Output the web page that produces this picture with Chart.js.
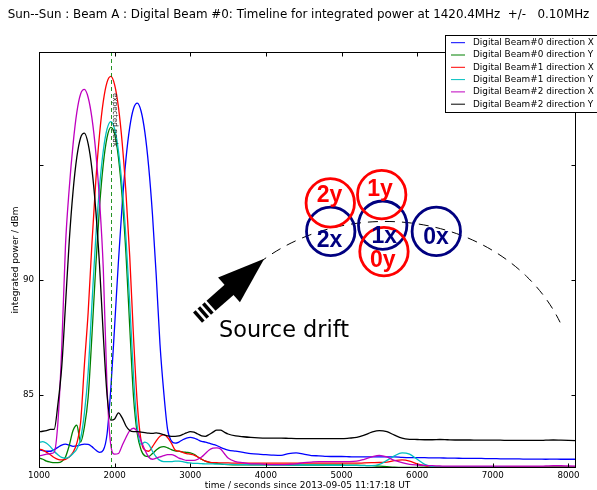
<!DOCTYPE html>
<html><head><meta charset="utf-8">
<script src="https://cdn.jsdelivr.net/npm/chart.js@4/dist/chart.umd.min.js"></script>
<style>html,body{margin:0;padding:0;background:#fff}canvas{display:block}</style>
</head><body>
<canvas id="c" width="597" height="490"></canvas>
<script>
// ---------- data ----------
const times = [1000,1050,1100,1150,1200,1250,1300,1350,1400,1450,
  1500,1550,1600,1650,1700,1750,1800,1850,1900,1950,
  2000,2050,2100,2150,2200,2250,2300,2350,2400,2450,
  2500,2550,2600,2650,2700,2750,2800,2850,2900,2950,
  3000,3050,3100,3150,3200,3250,3300,3350,3400,3450,3500,
  3600,3700,3800,3900,4000,4100,4200,4300,4400,4500,
  4600,4700,4800,4900,5000,5100,5200,5300,5400,5500,
  5600,5700,5800,5900,6000,6100,6200,6300,6400,6500,
  6600,6700,6800,6900,7000,7100,7200,7300,7400,7500,
  7600,7700,7800,7900,8000,8100];

const beam0X = [82.61,82.58,82.55,82.55,82.62,82.72,82.82,82.86,82.82,82.76,
  82.78,82.83,82.86,82.85,82.75,82.6,82.5,82.6,83.3,85.3,
  88.0,90.8,93.3,95.28,96.66,97.47,97.7,97.35,96.43,94.94,
  92.87,90.2,87.2,85.1,83.5,83.0,82.9,82.95,83.05,83.12,
  83.15,83.12,83.05,82.98,82.95,82.9,82.85,82.8,82.72,82.65,82.6,
  82.55,82.5,82.45,82.42,82.4,82.38,82.37,82.45,82.48,82.42,
  82.36,82.35,82.33,82.32,82.32,82.31,82.3,82.3,82.3,82.3,
  82.3,82.3,82.28,82.27,82.27,82.27,82.26,82.26,82.25,82.25,
  82.24,82.24,82.24,82.23,82.23,82.22,82.22,82.22,82.21,82.21,
  82.21,82.2,82.21,82.2,82.2,82.2];

const beam0Y = [82.26,82.2,82.12,82.08,82.05,82.05,82.1,82.3,82.8,83.45,
  83.68,82.95,83.6,84.9,87.6,90.56,93.17,95.05,96.21,96.65,
  96.36,95.34,93.6,91.14,87.95,84.9,83.3,82.6,82.35,82.32,
  82.45,82.6,82.72,82.75,82.7,82.62,82.57,82.55,82.52,82.5,
  82.48,82.42,82.3,82.2,82.12,82.06,82.03,82.02,82.0,81.98,81.97,
  81.96,81.96,81.96,81.96,81.96,81.96,81.96,81.95,81.95,81.95,
  81.95,81.95,81.95,81.95,81.95,81.94,81.94,81.93,81.92,81.9,
  81.88,81.86,81.85,81.85,81.85,81.86,81.87,81.87,81.87,81.87,
  81.87,81.87,81.87,81.87,81.87,81.87,81.87,81.87,81.87,81.87,
  81.87,81.87,81.87,81.87,81.87,81.87];

const beam1X = [82.64,82.6,82.5,82.4,82.28,82.2,82.17,82.2,82.3,82.5,
  82.9,83.8,86.3,88.6,91.6,94.27,96.33,97.78,98.62,98.87,
  98.5,97.54,95.97,93.79,91.0,87.5,84.6,83.0,82.6,82.55,
  82.75,83.0,83.2,83.26,83.15,82.9,82.6,82.55,82.5,82.45,
  82.42,82.38,82.3,82.2,82.12,82.08,82.05,82.05,82.04,82.04,82.04,
  82.03,82.03,82.03,82.03,82.03,82.03,82.03,82.03,82.03,82.03,
  82.03,82.03,82.03,82.03,82.03,82.03,82.03,82.04,82.05,82.06,
  82.08,82.14,82.17,82.12,82.0,81.92,81.88,81.88,81.88,81.88,
  81.88,81.88,81.88,81.88,81.88,81.88,81.88,81.88,81.88,81.88,
  81.88,81.88,81.88,81.88,81.88,81.88];

const beam1Y = [82.93,82.97,82.9,82.75,82.55,82.4,82.28,82.25,82.3,82.45,
  82.65,83.1,84.2,86.0,88.96,91.82,94.04,95.63,96.58,96.9,
  96.58,95.63,94.04,91.82,88.96,85.8,83.6,82.85,82.95,82.85,
  82.55,82.3,82.15,82.1,82.1,82.1,82.12,82.12,82.1,82.06,
  82.04,82.02,82.02,82.01,82.0,82.0,82.0,81.99,81.99,81.98,81.98,
  81.97,81.97,81.96,81.96,81.96,81.95,81.95,81.95,81.95,81.95,
  81.95,81.95,81.94,81.94,81.94,81.93,81.93,81.92,81.92,81.98,
  82.15,82.35,82.48,82.42,82.2,81.98,81.88,81.87,81.87,81.87,
  81.87,81.87,81.87,81.87,81.87,81.87,81.86,81.86,81.86,81.86,
  81.86,81.86,81.86,81.86,81.86,81.86];

const beam2X = [82.35,82.38,82.42,82.45,82.5,83.8,87.0,91.5,94.0,95.9,
  97.3,98.1,98.3,97.95,97.05,95.6,93.5,90.5,85.3,82.8,
  82.42,82.45,82.8,83.15,83.45,83.55,83.4,83.0,82.6,82.3,
  82.2,82.25,82.3,82.36,82.4,82.4,82.35,82.25,82.2,82.15,
  82.15,82.15,82.2,82.3,82.45,82.6,82.68,82.7,82.65,82.45,82.25,
  82.1,82.05,82.0,82.0,81.98,81.97,81.97,81.98,82.0,82.05,
  82.08,82.1,82.1,82.1,82.1,82.1,82.12,82.2,82.3,82.37,
  82.3,82.15,82.05,81.98,81.95,81.93,81.92,81.91,81.9,81.9,
  81.9,81.9,81.9,81.9,81.9,81.9,81.9,81.9,81.9,81.9,
  81.9,81.91,81.92,81.92,81.91,81.9];

const beam2Y = [83.4,83.42,83.45,83.5,83.5,84.6,86.2,88.9,91.7,93.85,
  95.35,96.2,96.4,95.93,94.83,93.07,90.67,87.6,85.0,83.9,
  83.95,84.22,84.0,83.65,83.45,83.4,83.4,83.38,83.36,83.34,
  83.33,83.35,83.32,83.27,83.22,83.2,83.2,83.22,83.28,83.35,
  83.4,83.38,83.3,83.22,83.2,83.28,83.38,83.47,83.47,83.38,83.3,
  83.22,83.18,83.15,83.13,83.12,83.12,83.12,83.11,83.1,83.1,
  83.1,83.1,83.1,83.1,83.1,83.12,83.15,83.25,83.38,83.45,
  83.4,83.25,83.12,83.07,83.06,83.05,83.05,83.06,83.05,83.04,
  83.04,83.04,83.03,83.03,83.03,83.03,83.02,83.02,83.02,83.02,
  83.02,83.03,83.04,83.03,83.02,83.01];

const seriesLabels = ['Digital Beam#0 direction X','Digital Beam#0 direction Y',
  'Digital Beam#1 direction X','Digital Beam#1 direction Y',
  'Digital Beam#2 direction X','Digital Beam#2 direction Y'];
const seriesValues = [beam0X, beam0Y, beam1X, beam1Y, beam2X, beam2Y];
const xTickValues = [1000,2000,3000,4000,5000,6000,7000,8000];
const yTickValues = [85, 90, 95];
const labelledYTicks = [85, 90];
const expectedPeak = 1950;

const titleText = 'Sun--Sun : Beam A : Digital Beam #0: Timeline for integrated power at 1420.4MHz  +/-   0.10MHz';
const xTitle = 'time / seconds since 2013-09-05 11:17:18 UT';
const yTitle = 'integrated power / dBm';

// ---------- styles ----------
const seriesColors = ['#0000ff','#008000','#ff0000','#00bfbf','#bf00bf','#000000'];
const FONT = 'DejaVu Sans';

// annotation overlay (positions in data units: time, dBm)
const beamCircles = [
  {text:'2y', t:4851, v:93.36, lt:4842, lv:93.41, color:'#ff0000'},
  {text:'1y', t:5531, v:93.72, lt:5509, lv:93.66, color:'#ff0000'},
  {text:'2x', t:4857, v:92.12, lt:4842, lv:91.43, color:'#000080'},
  {text:'1x', t:5544, v:92.39, lt:5565, lv:91.60, color:'#000080'},
  {text:'0x', t:6253, v:92.12, lt:6249, lv:91.57, color:'#000080'},
  {text:'0y', t:5561, v:91.24, lt:5544, lv:90.56, color:'#ff0000'}
];
const circleOrder = [2,3,4,0,1,5];

const decor = {
  id: 'decor',
  afterDatasetsDraw(chart) {
    const {ctx, chartArea: a, scales: {x, y}} = chart;
    ctx.save();
    // expected peak line
    const ep = Math.round(x.getPixelForValue(expectedPeak)) + 0.5;
    ctx.strokeStyle = 'rgba(0,128,0,0.85)';
    ctx.lineWidth = 1;
    ctx.setLineDash([4, 3]);
    ctx.beginPath(); ctx.moveTo(ep, a.top); ctx.lineTo(ep, a.bottom); ctx.stroke();
    ctx.setLineDash([]);
    // expected peak text
    ctx.save();
    ctx.translate(ep + 3, a.top + 41);
    ctx.rotate(Math.PI / 2);
    ctx.fillStyle = '#222';
    ctx.font = '7.3px "' + FONT + '"';
    ctx.textAlign = 'left'; ctx.textBaseline = 'middle';
    ctx.fillText('expected peak', 0, 0);
    ctx.restore();

    // frame
    ctx.strokeStyle = '#000'; ctx.lineWidth = 1;
    const L = Math.round(a.left) + 0.5, R = Math.round(a.right) - 0.5,
          T = Math.round(a.top) + 0.5, B = Math.round(a.bottom) - 0.5;
    ctx.strokeRect(L, T, R - L, B - T);
    // inward ticks on all four sides
    ctx.beginPath();
    x.ticks.forEach(tk => {
      const p = Math.round(x.getPixelForValue(tk.value)) + 0.5;
      ctx.moveTo(p, B); ctx.lineTo(p, B - 4);
      ctx.moveTo(p, T); ctx.lineTo(p, T + 4);
    });
    y.ticks.forEach(tk => {
      const p = Math.round(y.getPixelForValue(tk.value)) + 0.5;
      ctx.moveTo(L, p); ctx.lineTo(L + 4, p);
      ctx.moveTo(R, p); ctx.lineTo(R - 4, p);
    });
    ctx.stroke();

    // dashed drift arc
    const ac = {x: x.getPixelForValue(5575), y: y.getPixelForValue(85.37)};
    ctx.strokeStyle = '#000'; ctx.lineWidth = 1;
    ctx.setLineDash([10, 7]);
    ctx.beginPath();
    ctx.ellipse(ac.x, ac.y, 190, 165, 0, -2.302, -0.399);
    ctx.stroke();
    ctx.setLineDash([]);

    // circles
    circleOrder.forEach(i => {
      const c = beamCircles[i];
      const cx = x.getPixelForValue(c.t), cy = y.getPixelForValue(c.v);
      ctx.strokeStyle = c.color; ctx.lineWidth = 2.8;
      ctx.beginPath(); ctx.arc(cx, cy, 24.2, 0, Math.PI * 2); ctx.stroke();
    });
    circleOrder.forEach(i => {
      const c = beamCircles[i];
      ctx.fillStyle = c.color;
      ctx.font = 'bold 23px "Liberation Sans"';
      ctx.textAlign = 'center'; ctx.textBaseline = 'alphabetic';
      ctx.fillText(c.text, x.getPixelForValue(c.lt), y.getPixelForValue(c.lv));
    });

    // arrow
    const tip = {x: x.getPixelForValue(3968), y: y.getPixelForValue(90.90)};
    const ang = Math.atan2(-60.5, 68.5);
    ctx.save();
    ctx.translate(tip.x, tip.y);
    ctx.rotate(ang);
    ctx.fillStyle = '#000';
    ctx.beginPath();
    ctx.moveTo(1, 0); ctx.lineTo(-46, -16.5); ctx.lineTo(-46, 16.5); ctx.closePath(); ctx.fill();
    ctx.fillRect(-70, -6.8, 26, 13.6);
    [[-76, -72.5], [-82, -78.5], [-88, -84.5]].forEach(s => ctx.fillRect(s[0], -6.8, s[1] - s[0], 13.6));
    ctx.restore();

    // Source drift label
    ctx.fillStyle = '#000';
    ctx.font = '22.4px "' + FONT + '"';
    ctx.textAlign = 'left'; ctx.textBaseline = 'alphabetic';
    ctx.fillText('Source drift', x.getPixelForValue(3380), y.getPixelForValue(87.54));

    // legend (built from datasets)
    ctx.fillStyle = '#fff'; ctx.strokeStyle = '#000'; ctx.lineWidth = 1;
    ctx.fillRect(445.5, 35.5, 160, 77); ctx.strokeRect(445.5, 35.5, 160, 77);
    ctx.font = '8.9px "' + FONT + '"';
    ctx.textBaseline = 'middle'; ctx.textAlign = 'left';
    chart.data.datasets.forEach((d, i) => {
      const ry = 42.7 + i * 12.3;
      ctx.strokeStyle = d.borderColor; ctx.lineWidth = 1;
      ctx.beginPath(); ctx.moveTo(451, ry); ctx.lineTo(465, ry); ctx.stroke();
      ctx.fillStyle = '#000';
      ctx.fillText(d.label, 473, ry);
    });

    // title
    ctx.fillStyle = '#000';
    ctx.font = '11.9px "' + FONT + '"';
    ctx.textAlign = 'center'; ctx.textBaseline = 'alphabetic';
    ctx.fillText(titleText, 298.5, 17.5);
    ctx.restore();
  }
};

const datasets = seriesValues.map((vals, i) => ({
  label: seriesLabels[i],
  data: vals.map((v, j) => ({x: times[j], y: v})),
  borderColor: seriesColors[i],
  borderWidth: 1.3,
  pointRadius: 0,
  fill: false,
  cubicInterpolationMode: 'monotone',
  order: 6 - i
}));

new Chart(document.getElementById('c'), {
  type: 'line',
  data: {datasets},
  options: {
    responsive: false,
    animation: false,
    events: [],
    layout: {padding: {top: 52, right: 21, left: 0, bottom: 0}},
    plugins: {legend: {display: false}, tooltip: {enabled: false}, title: {display: false}},
    scales: {
      x: {
        type: 'linear', min: 1000, max: 8100,
        afterFit(s) { s.height = 22; },
        afterBuildTicks(s) { s.ticks = xTickValues.map(v => ({value: v})); },
        grid: {display: false, drawTicks: false},
        border: {display: false},
        ticks: {padding: 3, color: '#000', maxRotation: 0, autoSkip: false,
                font: {family: FONT, size: 8.7}, callback: v => String(v)},
        title: {display: true, text: xTitle, color: '#000', font: {family: FONT, size: 9}, padding: {top: 0, bottom: -1}}
      },
      y: {
        type: 'linear', min: 81.82, max: 99.93,
        afterFit(s) { s.width = 39; },
        afterBuildTicks(s) { s.ticks = yTickValues.map(v => ({value: v})); },
        grid: {display: false, drawTicks: false},
        border: {display: false},
        ticks: {padding: 5, color: '#000', font: {family: FONT, size: 8.7},
                callback: v => labelledYTicks.includes(v) ? String(v) : ''},
        title: {display: true, text: yTitle, color: '#000', font: {family: FONT, size: 9}, padding: {top: 10, bottom: 0}}
      }
    }
  },
  plugins: [decor]
});
</script>
</body></html>
